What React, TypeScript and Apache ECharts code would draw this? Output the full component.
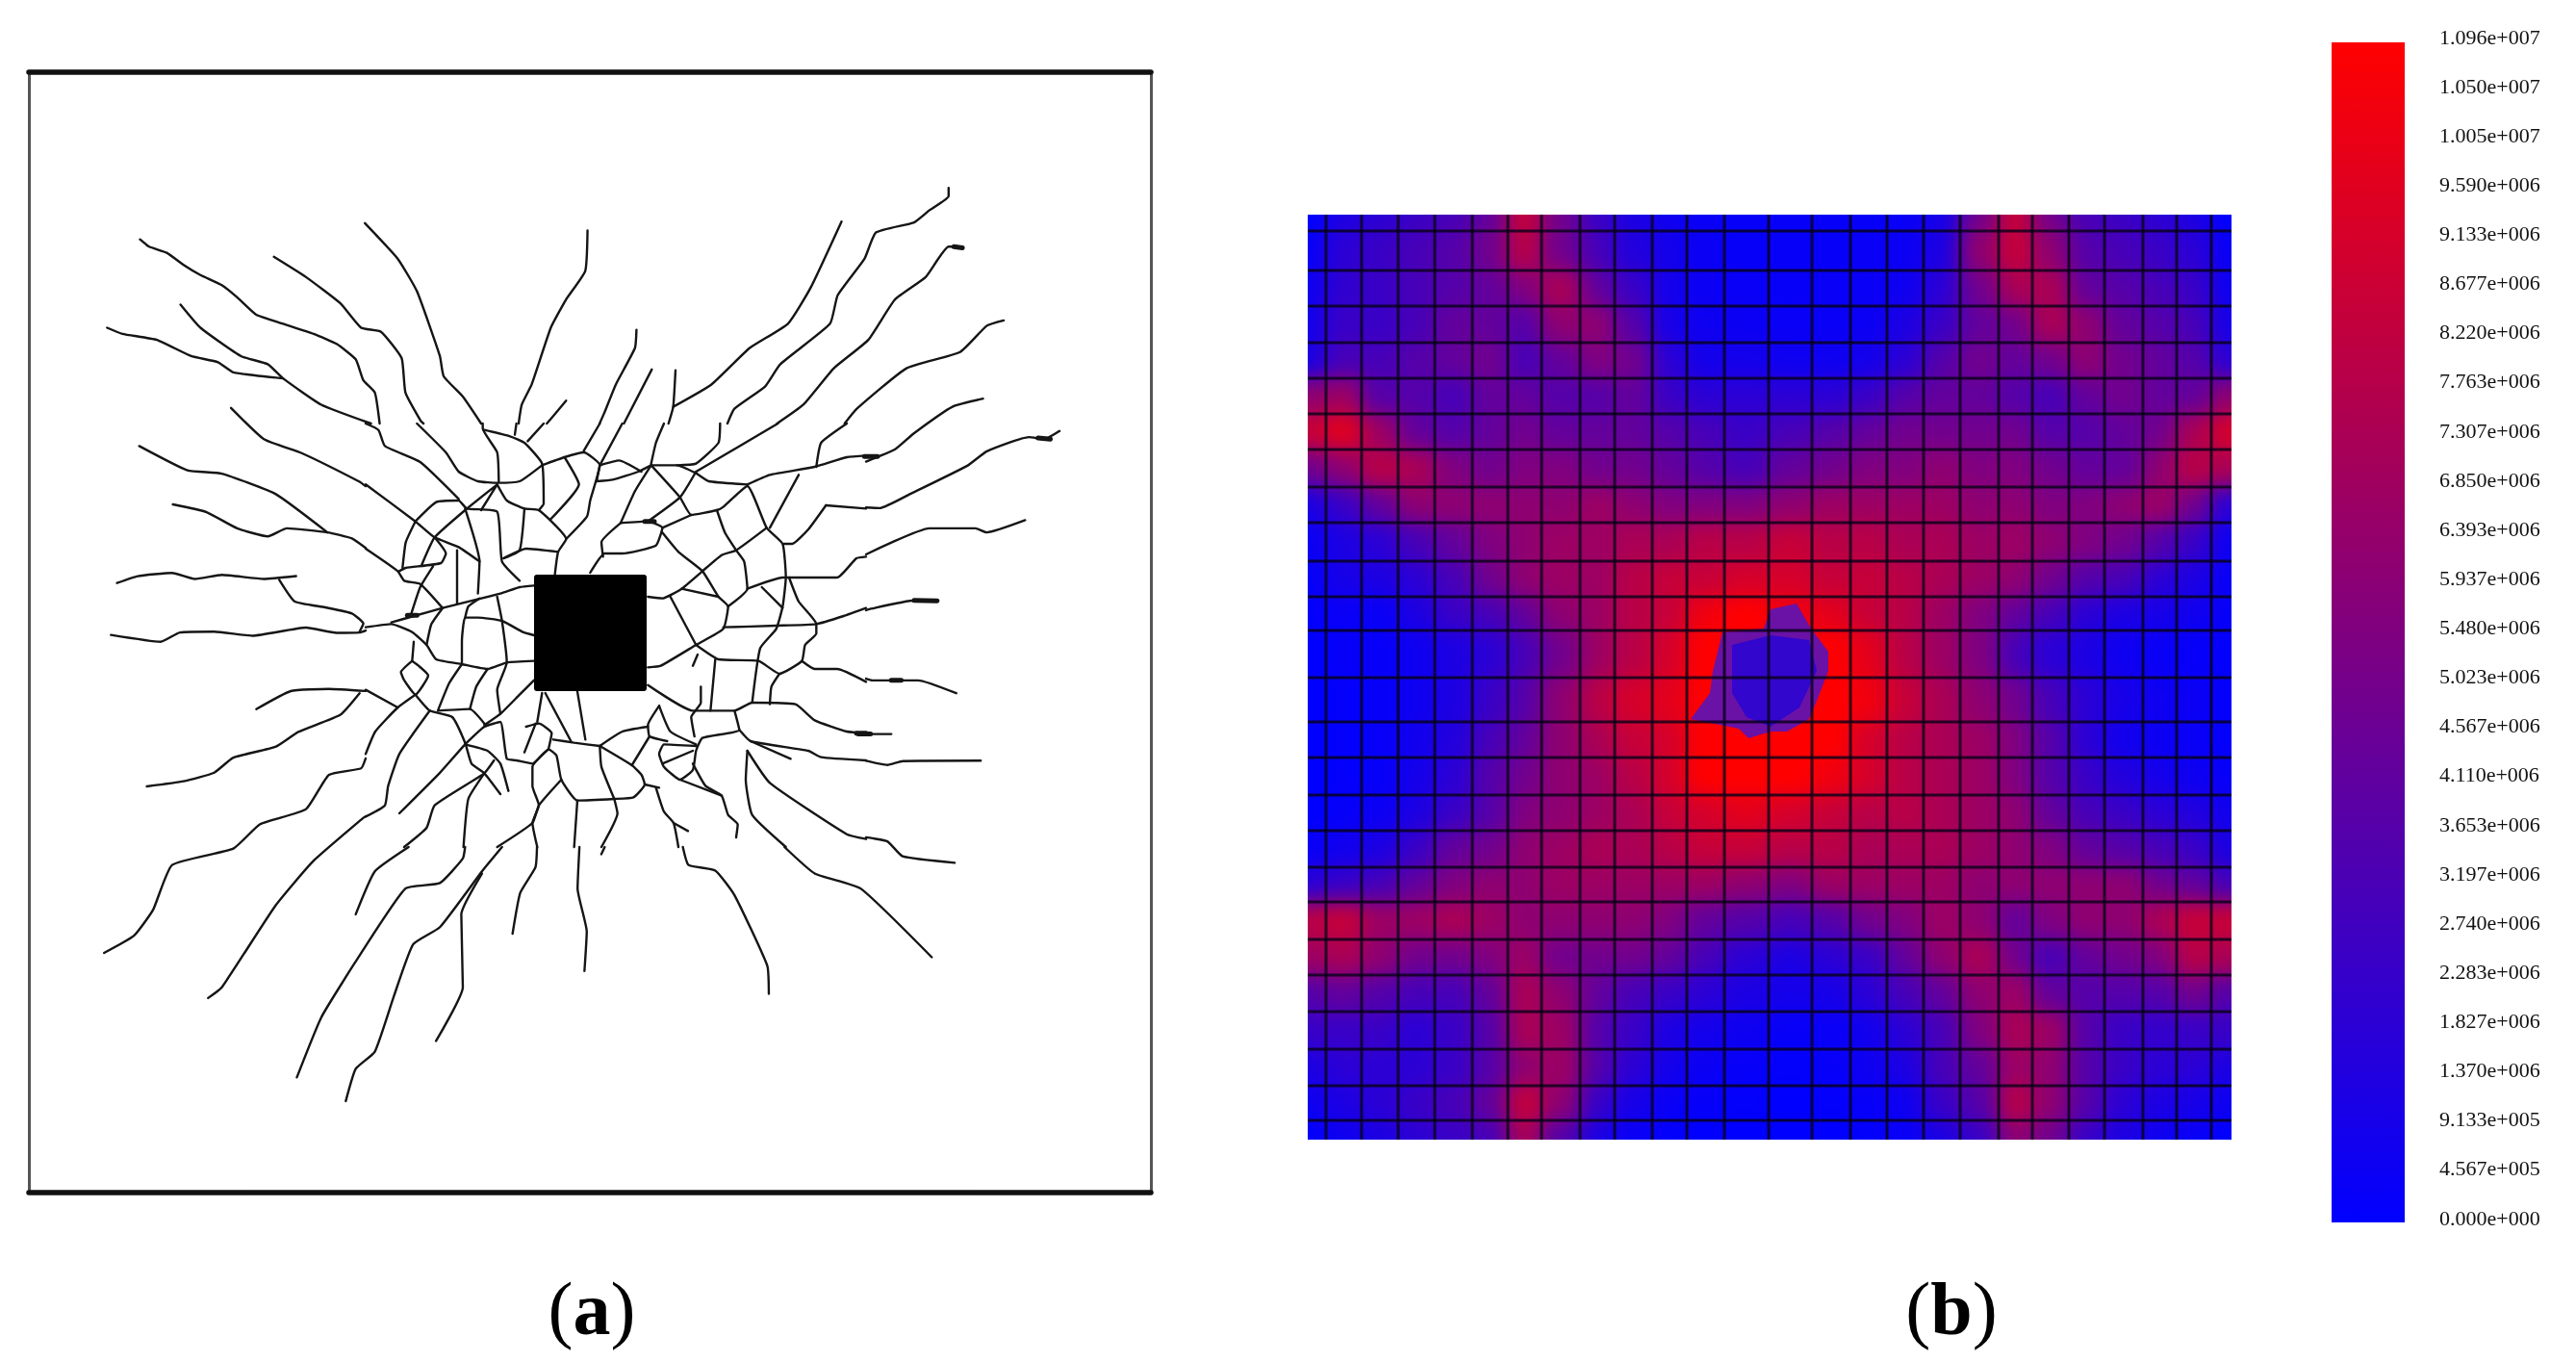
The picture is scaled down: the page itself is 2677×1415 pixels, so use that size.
import React, { useEffect, useRef } from "react";
import * as echarts from "echarts";

type P = number[];
const z1 = (l: P[]) => l.map(([x, y]) => [x * 0.795, 50 + y * 0.421]);
const z2 = (l: P[]) => l.map(([x, y]) => [x * 0.795, 660 + y * 0.446]);
const z3 = (l: P[]) => l.map(([x, y]) => [380 + x / 3, 440 + y / 3]);

const cracksUpper: P[][] = [
  [[183,472],[195,490],[218,505],[240,535],[262,560],[290,585],[310,615],[335,658],[370,680],[410,705],[440,730],[465,768],[475,820],[490,850],[497,935],[510,990],[550,1020],[575,1060],[605,1120]],
  [[358,515],[400,565],[445,630],[472,690],[498,700],[525,765],[530,850],[550,920],[590,990],[610,1040],[630,1065],[655,1070],[680,1072],[715,1030]],
  [[477,432],[520,520],[545,600],[575,760],[580,810],[605,860],[632,935],[650,990],[657,1065]],
  [[140,690],[160,705],[205,720],[250,760],[285,775],[305,800],[370,815]],
  [[236,633],[262,690],[315,760],[350,780],[370,815],[420,880],[497,935]],
  [[302,888],[345,965],[395,1000],[470,1070],[510,1125],[545,1165],[600,1235],[630,1275]],
  [[182,982],[245,1042],[290,1050],[360,1100],[428,1195]],
  [[226,1126],[270,1145],[310,1185],[350,1205],[375,1185],[428,1195],[460,1210],[525,1295]],
  [[153,1320],[180,1303],[225,1295],[255,1310],[290,1300],[345,1310],[387,1303]],
  [[365,1312],[385,1365],[425,1380],[460,1395],[475,1420],[470,1440]],
  [[145,1448],[210,1465],[235,1442],[280,1440],[330,1450],[400,1430],[440,1443],[470,1442],[510,1418],[540,1405],[580,1385],[650,1345],[700,1322]],
  [[768,450],[765,550],[740,620],[720,690],[695,830],[682,880],[675,960]],
  [[740,870],[720,915],[695,970]],
  [[832,695],[830,740],[805,830],[790,900],[768,993]],
  [[852,793],[790,1020],[785,1070]],
  [[883,795],[880,885],[860,1020]],
  [[1100,428],[1060,590],[1030,680],[980,740],[930,830],[880,885]],
  [[1240,345],[1240,365],[1215,400],[1195,430],[1145,455],[1130,520],[1095,610],[1085,680],[1020,780],[1000,835],[960,890],[940,970],[900,1040]],
  [[1255,490],[1240,490],[1210,565],[1170,620],[1135,720],[1090,790],[1050,880],[980,975],[925,1020],[880,1030]],
  [[1312,672],[1290,685],[1255,750],[1185,790],[1120,890],[1085,970],[1072,1040]],
  [[1285,865],[1245,885],[1195,950],[1170,990],[1120,1030],[1050,1050],[980,1075]],
  [[1385,945],[1365,965],[1345,960],[1290,995],[1265,1030],[1190,1100],[1150,1135],[1085,1130],[1050,1210],[1035,1228]],
  [[1340,1165],[1290,1195],[1275,1185],[1215,1185],[1125,1255],[1100,1305],[1030,1308],[1000,1335],[960,1360]],
  [[1225,1365],[1195,1363],[1135,1385],[1095,1415],[1040,1440],[960,1425],[900,1490],[855,1525]],
];

const cracksLower: P[][] = [
  [[1250,135],[1200,105],[1140,105],[1110,90],[1060,70],[1055,55]],
  [[1165,230],[1120,230],[1080,200],[1045,165],[1010,162],[965,175],[915,180]],
  [[1282,292],[1180,293],[1160,302],[1120,288],[1080,285],[1045,255],[1000,245],[970,228],[915,250]],
  [[1038,288],[985,240]],
  [[1248,530],[1180,515],[1160,480],[1115,465],[1015,350],[985,275],[970,228]],
  [[1218,750],[1125,590],[1065,555],[985,430],[982,290]],
  [[1005,835],[1003,770],[960,605],[935,548],[900,535],[885,450],[865,370]],
  [[968,470],[965,440],[945,375],[915,340]],
  [[905,458],[885,445]],
  [[764,782],[767,690],[755,590],[760,390]],
  [[786,510],[810,420],[808,380],[785,260]],
  [[335,172],[380,130],[430,125],[480,130],[522,168]],
  [[470,135],[445,185],[390,225],[360,260],[305,285],[280,320],[240,340],[192,352]],
  [[136,740],[175,700],[200,640],[225,535],[305,497],[340,440],[400,405],[430,325],[472,310],[490,240],[522,170],[545,140]],
  [[272,845],[290,820],[360,630],[410,525],[475,425],[505,395],[520,290],[565,175]],
  [[527,412],[590,290],[612,245],[640,205]],
  [[465,650],[490,550],[560,460],[570,400],[640,320],[660,290]],
  [[388,1030],[420,890],[465,760],[530,590],[575,577],[605,520],[625,340],[635,320]],
  [[452,1085],[465,1010],[490,970],[515,840],[540,720],[575,680],[630,550],[660,485],[703,437]],
  [[570,945],[605,820],[603,650],[630,555]],
  [[670,695],[680,600],[700,540],[705,420],[740,340]],
  [[703,437],[708,385],[698,315],[715,275]],
];

const cracksCentre: P[][] = [
  [[0,190],[155,305],[215,355],[290,385],[355,430]],
  [[155,305],[125,370],[115,450]],
  [[105,460],[125,450],[235,435],[250,405],[215,355]],
  [[155,305],[220,245],[290,240],[315,265],[410,275],[425,430],[480,490]],
  [[310,265],[355,430],[350,530]],
  [[285,395],[285,560]],
  [[0,390],[100,460],[120,490],[170,500],[240,575]],
  [[210,445],[170,510],[140,600]],
  [[175,440],[215,355],[310,270],[410,190],[360,270]],
  [[410,190],[440,240],[495,265],[540,270],[625,360],[600,400],[590,470]],
  [[495,265],[480,395],[430,420]],
  [[430,420],[500,390],[600,400]],
  [[365,0],[365,15],[410,90],[415,180]],
  [[370,20],[450,40],[495,60],[550,125],[555,250],[540,270]],
  [[550,130],[620,105],[680,90],[730,130],[700,240],[690,290],[625,360]],
  [[620,105],[665,190],[575,300]],
  [[730,130],[720,180],[770,175],[850,150],[890,130]],
  [[730,130],[790,115],[860,150]],
  [[890,130],[970,130],[1030,155],[1070,180],[1190,190]],
  [[890,130],[840,210],[795,310],[880,305],[925,325],[905,380],[800,405],[745,405],[700,465]],
  [[795,310],[735,370],[740,415]],
  [[890,130],[980,230],[1015,285],[1095,270],[1115,260],[1190,195],[1250,325],[1300,375],[1310,480],[1300,570],[1280,640],[1230,700],[1205,870]],
  [[1030,150],[980,230],[880,305]],
  [[925,325],[1015,285]],
  [[925,340],[975,400],[1050,460],[1100,540],[1130,570],[1115,640],[1030,690],[920,755],[880,760]],
  [[880,540],[925,545],[985,515],[1050,460],[1110,410],[1155,395],[1250,325]],
  [[985,515],[1100,540]],
  [[1095,270],[1120,340],[1155,395],[1180,430],[1190,515],[1130,570]],
  [[1190,515],[1300,480],[1320,480],[1470,480],[1530,420],[1560,415]],
  [[1235,510],[1300,575]],
  [[1115,635],[1280,630],[1405,625],[1490,600],[1560,575]],
  [[1320,480],[1350,555],[1405,625],[1405,655],[1370,690],[1360,740],[1290,780],[1225,740],[1100,735],[1030,690]],
  [[950,540],[1030,690]],
  [[1090,735],[1075,895]],
  [[1035,720],[1020,755]],
  [[1045,820],[1045,870],[1015,915],[1025,975]],
  [[880,815],[1020,895],[1150,895],[1205,870],[1340,875],[1400,925],[1500,960],[1560,965]],
  [[1290,780],[1265,820],[1260,875]],
  [[1360,740],[1400,765],[1470,765],[1560,805]],
  [[1150,895],[1165,955],[1050,980],[1030,1020],[1020,1080],[980,1110],[930,1070],[915,1030],[930,1000],[1030,1005]],
  [[915,880],[950,960],[1030,1000]],
  [[915,880],[880,940],[885,975],[940,990]],
  [[880,945],[800,960],[730,1005]],
  [[885,975],[830,1065]],
  [[1165,955],[1200,990],[1380,1020],[1420,1040],[1560,1050]],
  [[1200,990],[1325,1045]],
  [[1190,1020],[1185,1110],[1205,1220],[1310,1320]],
  [[1190,1020],[1260,1120],[1500,1280],[1560,1295]],
  [[925,1060],[1020,1020]],
  [[1020,1060],[1060,1130],[1110,1160],[1130,1220],[1160,1250],[1155,1290]],
  [[980,1110],[1110,1160]],
  [[730,1005],[830,1065],[860,1095],[870,1125],[835,1165],[775,1170],[660,1175],[610,1110],[595,1035],[570,1015],[520,1060],[470,1050],[440,1045],[420,930],[370,945],[310,1000],[230,1090],[105,1215]],
  [[660,1175],[650,1320]],
  [[775,1170],[785,1215],[735,1320]],
  [[730,1005],[735,1070],[775,1170]],
  [[585,985],[650,995],[730,1005]],
  [[660,835],[685,985]],
  [[560,840],[640,990]],
  [[550,840],[535,930]],
  [[500,945],[540,935],[580,965],[570,1015]],
  [[530,935],[495,1025]],
  [[525,800],[480,845],[420,905],[370,940]],
  [[525,740],[440,745],[380,765],[300,750],[220,735],[190,690],[145,650],[80,625],[0,635]],
  [[525,505],[480,510],[420,530],[240,575],[150,600],[80,620]],
  [[525,660],[490,650],[425,615],[350,605],[310,605],[300,680],[300,750]],
  [[410,540],[425,615],[440,745],[410,830],[420,905]],
  [[240,575],[205,625],[190,690]],
  [[355,545],[320,570],[310,605]],
  [[150,680],[145,740]],
  [[145,740],[110,775],[120,800],[155,845],[195,785],[165,755],[145,740]],
  [[155,845],[100,885],[30,960],[0,1030]],
  [[0,830],[100,885]],
  [[155,845],[200,895],[270,915],[310,995],[330,1060],[370,1090],[420,1155]],
  [[200,895],[105,1030],[70,1130],[60,1190],[0,1225]],
  [[300,750],[260,810],[225,895],[325,890],[370,935]],
  [[380,765],[345,820],[325,890]],
  [[310,1000],[380,1020],[420,1060],[445,1145]],
  [[400,1050],[370,1090],[215,1190],[190,1260],[120,1320]],
  [[370,1090],[320,1170],[305,1320]],
  [[610,1110],[540,1190],[520,1245],[410,1320]],
  [[570,1015],[520,1070],[520,1130],[540,1190],[520,1245],[535,1320]],
  [[915,1135],[870,1125]],
  [[905,1135],[930,1210],[960,1245],[975,1320]],
  [[960,1245],[1005,1270]],
  [[1350,160],[1260,325]],
  [[1435,255],[1560,265]],
  [[1435,255],[1380,330],[1330,375],[1305,375]],
  [[1190,190],[1260,160],[1400,135],[1500,105],[1560,100]],
  [[890,125],[905,60],[930,0]],
  [[1285,0],[1030,150]],
  [[1105,0],[1100,60],[1030,125],[970,130]],
  [[1500,0],[1420,60],[1405,135]],
  [[800,0],[730,130]],
  [[730,0],[680,85]],
  [[555,0],[505,55]],
  [[470,0],[465,35]],
  [[0,0],[40,20],[60,70],[170,120],[290,235]],
  [[160,0],[250,90],[290,150],[350,180],[410,185],[480,180],[550,130]],
];

const stubsUpper: P[][] = [[[1130,1008],[1147,1008]],[[1357,962],[1373,965]],[[1247,490],[1258,493]],[[1195,1363],[1225,1364]]];
const stubsLower: P[][] = [[[1165,105],[1178,105]],[[1122,230],[1138,230]]];
const stubsCentre: P[][] = [[[870,305],[900,305]],[[130,598],[160,598]],[[1530,965],[1560,965]]];

const inclusion = [555, 597, 672, 718];
const panelA = { x0: 30, x1: 1196, y0: 75, y1: 1239 };
const centreWindow = { x0: 380, x1: 900, y0: 440, y1: 880 };

const meshX = [1359,1378,1415,1453,1491,1530,1567,1602,1642,1678,1717,1753,1792,1838,1883,1923,1961,1999,2037,2077,2112,2150,2187,2227,2262,2298,2319];
const meshY = [223,240,281,318,356,393,430,467,506,543,583,620,655,704,750,787,826,863,901,937,976,1013,1051,1090,1128,1164,1184];

const fieldTenths: number[][] = [
  [0,1,1.5,2,2.5,3.5,7,4,2,1,.5,.3,.2,.2,.2,.2,.3,.8,4,7,4,2.5,2,1.5,1,0],
  [.3,1.5,2,2.5,3,4,6.5,4,2.5,1.2,.7,.4,.2,.2,.2,.3,.4,1,5,7,5,3,2.5,2,1.5,.3],
  [.5,1.7,2,2.5,3,3.5,4.5,6,3.5,2,.7,.4,.3,.2,.3,.3,.5,1.5,4,6,6,3.5,3,2.5,2,.5],
  [.7,2,2,2.5,3.5,3.5,3,5,5,3,.8,.5,.4,.3,.3,.4,1,2,3.5,4,6,5,3.5,3,2.5,.8],
  [1,2.5,2.5,3,3.5,4,2.5,3.5,4.5,4,1.5,.7,.7,.5,.5,.7,1.5,3,4,3.5,4,5,4,3.5,3,1.5],
  [5,5.5,3,3,2.5,3.5,3.5,3,3,3.5,2,1.5,1.5,1.5,1.5,2,3,3.5,3.5,3,2.5,3.5,4,3.5,3.5,5],
  [7,8,5.5,3.5,3,3.5,4,3.5,3.5,3.5,3,2.5,2,2.5,3,3.5,4,4,4,4,3,3,3.5,4,6,7.5],
  [4,5,6.5,6,4.5,4,4.5,4.5,4,4,3.5,3,2.5,3.5,4,4.5,4.5,5,4.5,4.5,4,3.5,3.5,5,6.5,6],
  [1,2,3.5,5,5,5,5,5,5.5,5,4.5,4.5,4.5,5,5.5,5.5,5.5,5.5,5,5,4.5,4.5,5,5.5,4,1.5],
  [.4,1,1.5,2.5,3.5,4.5,5,5.5,5.5,6,6,6.5,6.5,7,6.5,6.5,6,6,5.5,5.5,5,4.5,4,3,2,.5],
  [.2,.8,1,1.5,2.5,4,5,5.5,5.5,6.5,7,7,7.5,7.5,7,7,6.5,6,5.5,5,4,3,2.5,1.5,1,.3],
  [.1,.3,.3,1,2,2.5,3.5,5,5.5,6.5,7,8.5,9,8.5,8,7,6.5,5.5,4.5,3.5,2.5,1.5,1,.8,.6,.2],
  [0,.2,.2,.5,1,1.5,2.5,4,5.5,6.5,7.5,10,9,8.5,9.5,8,6.5,5.5,4.5,2.5,1.5,1,.5,.3,.2,.1],
  [0,.1,.2,.5,1,2,3,5,6.5,7.5,8,10,9,9,9.5,8.5,7,6,5,4,2.5,1.5,.8,.5,.4,.1],
  [0,.1,.2,.6,1.2,2.5,3.5,5,6,7,7.5,9.5,9.5,9.5,9,7.5,6.5,6,5.5,4.5,3,1.5,.6,.4,.3,.1],
  [0,.1,.2,.7,1.5,3,4,5,5.5,6.5,7.5,9.5,10,9.5,8.5,7.5,6.5,6,5.5,4.5,3,2,1.2,.7,.5,.2],
  [0,.2,.4,1,2,3,4.5,5,5.5,6,7,7.5,8,7.5,7,6.5,6.5,6,5.5,5,3.5,2.5,2,1.5,1.2,.6],
  [.3,.6,1,2,3.5,4,5,5.5,6,6,6.5,7,7,6.5,6.5,6,6,6,5.5,5,4.5,3.5,3,2.5,2,1],
  [1.5,2,2.5,3.5,4.5,5,5,5.5,5.5,5.5,5.5,5.5,5,4.5,5.5,5.5,5.5,5.5,5,5,5,5,5,4,3.5,2.5],
  [6.5,7,5.5,5.5,6,5.5,5,5,5,5,4.5,3.5,3,2.5,3,4,4.5,5.5,5,3.5,4.5,5,5,6,7,7],
  [5.5,6,5,4,4,4.5,5.5,4,4,4,3.5,2.5,1.5,1,1.5,2,3.5,5,6,4,2.5,3.5,4,4.5,6.5,6],
  [3,3.5,3,2.5,2.5,3.5,6,5,3.5,2.5,2,1.5,1,.7,.8,1.5,2.5,3.5,5,5.5,3.5,3,3,3,4,3],
  [2,2,2,1.5,2,3,6,5.5,3,2,1,.7,.5,.2,.3,.6,1.5,2.5,4.5,6,5.5,3,2,1.8,2,2],
  [1,1.5,1.5,1.5,2,3,5,5.5,3,1.5,.7,.4,.2,.1,.2,.5,1,2.5,3.5,5.5,5,3,2,1.5,1.5,1],
  [.5,1,1.5,2,2.5,3.5,7,5,2,.8,.3,.2,.1,0,.1,.2,.5,2,3,6.5,5,3,1.5,1,.8,.5],
  [.1,.5,1,1.5,2,2.5,6,3,1,.3,.1,0,0,0,0,.1,.3,1,2,5,4,2,1,.5,.3,0],
];
const fieldMax = 1.096e7;
const holeOuter: P[] = [[1840,633],[1867,627],[1882,653],[1900,677],[1900,697],[1890,723],[1880,747],[1857,760],[1840,760],[1817,767],[1807,757],[1757,747],[1777,720],[1780,697],[1790,657],[1833,653]];
const holeInner: P[] = [[1840,660],[1880,665],[1888,697],[1870,735],[1840,755],[1815,745],[1800,720],[1800,670]];

const barLabels = ["1.096e+007","1.050e+007","1.005e+007","9.590e+006","9.133e+006","8.677e+006","8.220e+006","7.763e+006","7.307e+006","6.850e+006","6.393e+006","5.937e+006","5.480e+006","5.023e+006","4.567e+006","4.110e+006","3.653e+006","3.197e+006","2.740e+006","2.283e+006","1.827e+006","1.370e+006","9.133e+005","4.567e+005","0.000e+000"];

const SERIF = "'Liberation Serif', 'Times New Roman', serif";
const PAGE_W = 2677;
const PAGE_H = 1415;

const { x0: wx0, x1: wx1, y0: wy0, y1: wy1 } = centreWindow;
const inWindow = ([x, y]: P) => x > wx0 && x < wx1 && y > wy0 && y < wy1;
// where the segment from an outside point to an inside point meets the edge of the centre window
const edgePoint = (out: P, inner: P): P => {
  const ts = [
    out[0] <= wx0 ? (wx0 - out[0]) / (inner[0] - out[0]) : 0,
    out[0] >= wx1 ? (wx1 - out[0]) / (inner[0] - out[0]) : 0,
    out[1] <= wy0 ? (wy0 - out[1]) / (inner[1] - out[1]) : 0,
    out[1] >= wy1 ? (wy1 - out[1]) / (inner[1] - out[1]) : 0,
  ];
  const t = Math.max(...ts);
  return [out[0] + t * (inner[0] - out[0]), out[1] + t * (inner[1] - out[1])];
};
// The centre of the crack net is traced separately at a finer scale, so the outer traces stop at its edge.
const outsideCentre = (line: P[]) => {
  const runs: P[][] = [];
  let run: P[] = [];
  line.forEach((p, i) => {
    const next = line[i + 1];
    if (!inWindow(p)) {
      run.push(p);
      if (next && inWindow(next)) {
        run.push(edgePoint(p, next));
        runs.push(run);
        run = [];
      }
    } else if (next && !inWindow(next)) {
      run = [edgePoint(next, p)];
    }
  });
  if (run.length > 1) runs.push(run);
  return runs;
};

const boxRender = (_: any, api: any) => {
  const a = api.coord([api.value(0), api.value(1)]);
  const b = api.coord([api.value(2), api.value(3)]);
  const color = api.visual("color");
  return {
    type: "rect",
    shape: { x: a[0], y: a[1], width: b[0] - a[0], height: b[1] - a[1] },
    style: { fill: color, stroke: color, lineWidth: 0.6 },
  };
};

export default function App() {
  const fieldRef = useRef<HTMLDivElement>(null);
  const mainRef = useRef<HTMLDivElement>(null);
  const captionRef = useRef<HTMLDivElement>(null);
  useEffect(() => {
    const field = echarts.init(fieldRef.current!, undefined, { renderer: "svg" });
    const chart = echarts.init(mainRef.current!, undefined, { renderer: "svg" });
    const caption = echarts.init(captionRef.current!, undefined, { renderer: "svg" });

    const cells: number[][] = [];
    fieldTenths.forEach((row, r) =>
      row.forEach((v, c) =>
        cells.push([
          c === 0 ? meshX[0] - 50 : meshX[c],
          r === 0 ? meshY[0] - 50 : meshY[r],
          c === 25 ? meshX[26] + 50 : meshX[c + 1],
          r === 25 ? meshY[26] + 50 : meshY[r + 1],
          (v / 10) * fieldMax,
        ])
      )
    );
    field.setOption({
      animation: false,
      grid: { left: 0, top: 0, width: PAGE_W, height: PAGE_H },
      xAxis: { type: "value", min: 0, max: PAGE_W, show: false },
      yAxis: { type: "value", min: 0, max: PAGE_H, inverse: true, show: false },
      visualMap: {
        show: false, type: "continuous", seriesIndex: 0, dimension: 4, min: 0, max: fieldMax * 0.9,
        inRange: { color: ["#0000ff", "#ff0000"] },
      },
      series: [{ type: "custom", name: "field", data: cells, silent: true, renderItem: boxRender }],
    });

    const meshLines: number[][] = [];
    meshX.slice(1, -1).forEach((x) => meshLines.push([x, meshY[0], x, meshY[meshY.length - 1]]));
    meshY.slice(1, -1).forEach((y) => meshLines.push([meshX[0], y, meshX[meshX.length - 1], y]));

    const allCracks = [
      ...cracksUpper.map(z1).flatMap(outsideCentre),
      ...cracksLower.map(z2).flatMap(outsideCentre),
      ...cracksCentre.map(z3),
    ];
    const allStubs = [...stubsUpper.map(z1), ...stubsLower.map(z2), ...stubsCentre.map(z3)];
    const crackSeries = (line: P[], width: number, i: number) => ({
      type: "line", name: "crack" + i, xAxisIndex: 0, yAxisIndex: 0, data: line, showSymbol: false,
      smooth: 0.15, silent: true, lineStyle: { color: "#151515", width, cap: "round", join: "round" },
    });
    const hiddenAxis = { show: false };
    const frame = (color: string, width: number) => ({
      show: true, onZero: false, lineStyle: { color, width },
    });
    const plain = { axisTick: { show: false }, axisLabel: { show: false }, splitLine: { show: false } };
    const holeSeries = (name: string, outline: P[], fill: string) => ({
      type: "custom", name, xAxisIndex: 2, yAxisIndex: 2, data: [[0, 0]], silent: true,
      renderItem: (_: any, api: any) => ({
        type: "polygon",
        shape: { points: outline.map((p) => api.coord(p)) },
        style: { fill },
      }),
    });

    chart.setOption({
      animation: false,
      grid: [
        { left: panelA.x0, width: panelA.x1 - panelA.x0, top: panelA.y0, height: panelA.y1 - panelA.y0 },
        { left: meshX[0], width: meshX[26] - meshX[0], top: meshY[0], height: meshY[26] - meshY[0] },
        { left: 2534, width: 1, top: 38, height: 1227 },
      ],
      xAxis: [
        { type: "value", gridIndex: 0, min: panelA.x0, max: panelA.x1, position: "bottom", axisLine: frame("#111", 5.5), ...plain },
        { type: "value", gridIndex: 0, min: panelA.x0, max: panelA.x1, position: "top", axisLine: frame("#111", 5.5), ...plain },
        { type: "value", gridIndex: 1, min: meshX[0], max: meshX[26], ...hiddenAxis },
        { type: "value", gridIndex: 2, min: 0, max: 1, ...hiddenAxis },
      ],
      yAxis: [
        { type: "value", gridIndex: 0, min: panelA.y0, max: panelA.y1, inverse: true, position: "left", axisLine: frame("#555", 3), ...plain },
        { type: "value", gridIndex: 0, min: panelA.y0, max: panelA.y1, inverse: true, position: "right", axisLine: frame("#555", 3), ...plain },
        { type: "value", gridIndex: 1, min: meshY[0], max: meshY[26], inverse: true, ...hiddenAxis },
        {
          type: "category", gridIndex: 2, data: barLabels, inverse: true, boundaryGap: false, position: "right",
          axisLine: { show: false }, axisTick: { show: false },
          axisLabel: { show: true, interval: 0, margin: 0, color: "#111", fontFamily: SERIF, fontSize: 22, align: "left" },
        },
      ],
      graphic: [
        {
          type: "rect",
          shape: { x: 2423, y: 44, width: 76, height: 1226 },
          style: {
            fill: new echarts.graphic.LinearGradient(0, 0, 0, 1, [
              { offset: 0, color: "#ff0000" },
              { offset: 1, color: "#0000ff" },
            ]),
          },
        },
      ],
      series: [
        holeSeries("hole", holeOuter, "#6a12a6"),
        holeSeries("holeCore", holeInner, "#3206cc"),
        {
          type: "custom", name: "mesh", xAxisIndex: 2, yAxisIndex: 2, data: meshLines, silent: true,
          renderItem: (_: any, api: any) => {
            const a = api.coord([api.value(0), api.value(1)]);
            const b = api.coord([api.value(2), api.value(3)]);
            return {
              type: "line",
              shape: { x1: a[0], y1: a[1], x2: b[0], y2: b[1] },
              style: { stroke: "rgba(8,0,24,0.8)", lineWidth: 3 },
            };
          },
        },
        {
          type: "custom", name: "inclusion", xAxisIndex: 0, yAxisIndex: 0, data: [inclusion], silent: true, z: 5,
          renderItem: (_: any, api: any) => {
            const a = api.coord([api.value(0), api.value(1)]);
            const b = api.coord([api.value(2), api.value(3)]);
            return {
              type: "rect",
              shape: { x: a[0], y: a[1], width: b[0] - a[0], height: b[1] - a[1], r: 3 },
              style: { fill: "#000" },
            };
          },
        },
        ...allCracks.map((l, i) => crackSeries(l, 2.4, i)),
        ...allStubs.map((l, i) => crackSeries(l, 5, 1000 + i)),
      ],
    });

    const captionText = (x: number, letter: string) => ({
      type: "text", x, y: 1320,
      style: {
        text: `({b|${letter}})`, align: "center", verticalAlign: "top", font: `78px ${SERIF}`, fill: "#000",
        rich: { b: { fontWeight: "bold", fontSize: 78, fontFamily: SERIF, fill: "#000" } },
      },
    });
    caption.setOption({ animation: false, graphic: [captionText(615, "a"), captionText(2028, "b")] });

    return () => {
      field.dispose();
      chart.dispose();
      caption.dispose();
    };
  }, []);
  const layer: React.CSSProperties = { position: "absolute", left: 0, top: 0, width: PAGE_W, height: PAGE_H };
  return (
    <div style={{ position: "fixed", left: 0, top: 0, width: PAGE_W, height: PAGE_H, background: "#fff", overflow: "hidden" }}>
      <div style={{ position: "absolute", left: meshX[0], top: meshY[0], width: meshX[26] - meshX[0], height: meshY[26] - meshY[0], overflow: "hidden" }}>
        <div ref={fieldRef} style={{ ...layer, left: -meshX[0], top: -meshY[0], filter: "blur(11px)" }} />
      </div>
      <div ref={mainRef} style={{ ...layer, filter: "blur(0.7px)" }} />
      <div ref={captionRef} style={layer} />
    </div>
  );
}
